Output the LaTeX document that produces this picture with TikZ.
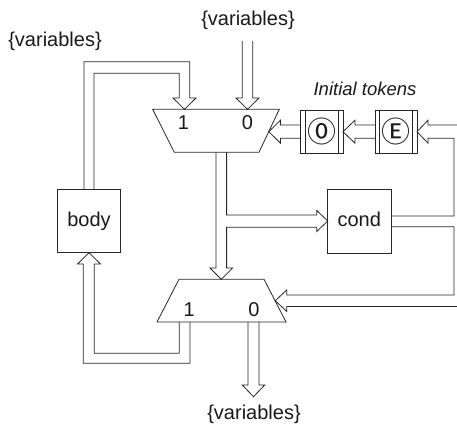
\documentclass[tikz,border=0pt]{standalone}
\usepackage{fontspec}
\setmainfont{Liberation Sans}
\newfontfamily\symfont{Noto Sans CJK SC}
\usetikzlibrary{calc}
\tikzset{
  wire/.style={draw=black!85, line width=0.8pt, line join=miter},
  blockbox/.style={wire, rectangle, inner sep=0pt},
  lbl/.style={inner sep=0pt, text=black!90, font=\fontsize{20}{24}\selectfont},
  muxlbl/.style={lbl, anchor=base},
  tokmark/.style={inner sep=0pt, text=black!90, font=\symfont\fontsize{29}{32}\selectfont},
}
\begin{document}
\begin{tikzpicture}[x=1pt, y=-1pt]
\useasboundingbox (0,0) rectangle (457,428);
\clip (0,0) rectangle (457,428);

% ---- boxes ----
\node[blockbox, minimum width=63.4pt, minimum height=63.4pt] (body) at (89,221) {};
\node[blockbox, minimum width=63.3pt, minimum height=64pt] (cond) at (359.3,221) {};
\node[blockbox, minimum width=42.3pt, minimum height=43.3pt] (tokz) at (321.85,131.65) {};
\node[blockbox, minimum width=42pt, minimum height=43.3pt] (toke) at (396,131.65) {};
\draw[wire] ($(tokz.north west)+(5,0)$) -- ($(tokz.south west)+(5,0)$);
\draw[wire] ($(tokz.north east)+(-5,0)$) -- ($(tokz.south east)+(-5,0)$);
\draw[wire] ($(toke.north west)+(5,0)$) -- ($(toke.south west)+(5,0)$);
\draw[wire] ($(toke.north east)+(-5,0)$) -- ($(toke.south east)+(-5,0)$);

\node[lbl, anchor=base] (bodyt) at (89,226.7) {body};
\node[lbl, anchor=base] (condt) at (359.3,226.7) {cond};
\node[tokmark] (ztxt) at (tokz.center) {⓪};
\node[tokmark] (etxt) at (toke.center) {Ⓔ};

% ---- multiplexers ----
\coordinate (tmA) at (152.7,109.3);
\coordinate (tmB) at (279.3,109.3);
\coordinate (tmC) at (259,152.3);
\coordinate (tmD) at (174.3,152.3);
\draw[wire] (tmA) -- (tmB) -- (tmC) -- (tmD) -- cycle;
\node[muxlbl] (tm1) at (183.5,129.3) {1};
\node[muxlbl] (tm0) at (247.5,129.3) {0};

\coordinate (bmA) at (179,279.3);
\coordinate (bmB) at (264,279.3);
\coordinate (bmC) at (286,322);
\coordinate (bmD) at (157,322);
\draw[wire] (bmA) -- (bmB) -- (bmC) -- (bmD) -- cycle;
\node[muxlbl] (bm1) at (189.3,316.7) {1};
\node[muxlbl] (bm0) at (254,316.7) {0};

% ---- texts ----
\node[lbl, anchor=base] (vtop) at (248,26) {\{variables\}};
\node[lbl, anchor=base] (vleft) at (55,46.7) {\{variables\}};
\node[lbl, anchor=base] (vbot) at (254,419) {\{variables\}};
\node[inner sep=0pt, anchor=base, text=black!90, font=\fontsize{18.5}{22}\selectfont\itshape] (init) at (365,95) {Initial tokens};

% ---- hollow arrows ----
% outside variables into mux input 0
\draw[wire] (242.3,41) -- (242.3,98) -- (236,98) -- (247.5,109.3) -- (259,98) -- (252.7,98) -- (252.7,41);
% body result back to mux input 1
\draw[wire] (84,189.3) -- (84,61.7) -- (189.7,61.7) -- (189.7,98) -- (196,98) -- (184.5,109.3)
  -- (173,98) -- (179.3,98) -- (179.3,73.3) -- (94,73.3) -- (94,189.3);
% top mux output split to bottom mux and cond
\draw[wire] (216,152.3) -- (216,268) -- (210,268) -- (221.3,279.3) -- (232.6,268) -- (226.6,268)
  -- (226.6,227.3) -- (316.7,227.3) -- (316.7,231.5) -- (327.7,221) -- (316.7,210.5)
  -- (316.7,215) -- (226.6,215) -- (226.6,152.3);
% cond to the token chain
\draw[wire] (391,216) -- (454,216) -- (454,138.3) -- (428,138.3) -- (428,143.2) -- (417,131.7)
  -- (428,120.2) -- (428,125) -- (457,125);
% token E to token 0
\draw[wire] (375,125) -- (355,125) -- (355,120.2) -- (343,131.7) -- (355,143.2) -- (355,138.3) -- (375,138.3);
% token 0 to mux
\draw[wire] (300.7,125) -- (280.5,125) -- (280.5,120.2) -- (268.8,131.7) -- (280.5,143.2) -- (280.5,138.3) -- (300.7,138.3);
% cond to bottom mux input 0
\draw[wire] (391,226.7) -- (454,226.7) -- (454,295) -- (286.7,295) -- (286.7,290) -- (275.3,300.7)
  -- (286.7,311.4) -- (286.7,306.5) -- (457,306.5);
% bottom mux output 1 to body
\draw[wire] (179.3,322) -- (179.3,353.3) -- (94.3,353.3) -- (94.3,264) -- (100.5,264) -- (89,252.7)
  -- (77.5,264) -- (83.3,264) -- (83.3,363.3) -- (190,363.3) -- (190,322);
% bottom mux output 0 leaves the loop
\draw[wire] (248,322) -- (248,385) -- (242.3,385) -- (253.5,396.7) -- (264.7,385) -- (259,385) -- (259,322);
\end{tikzpicture}
\end{document}
